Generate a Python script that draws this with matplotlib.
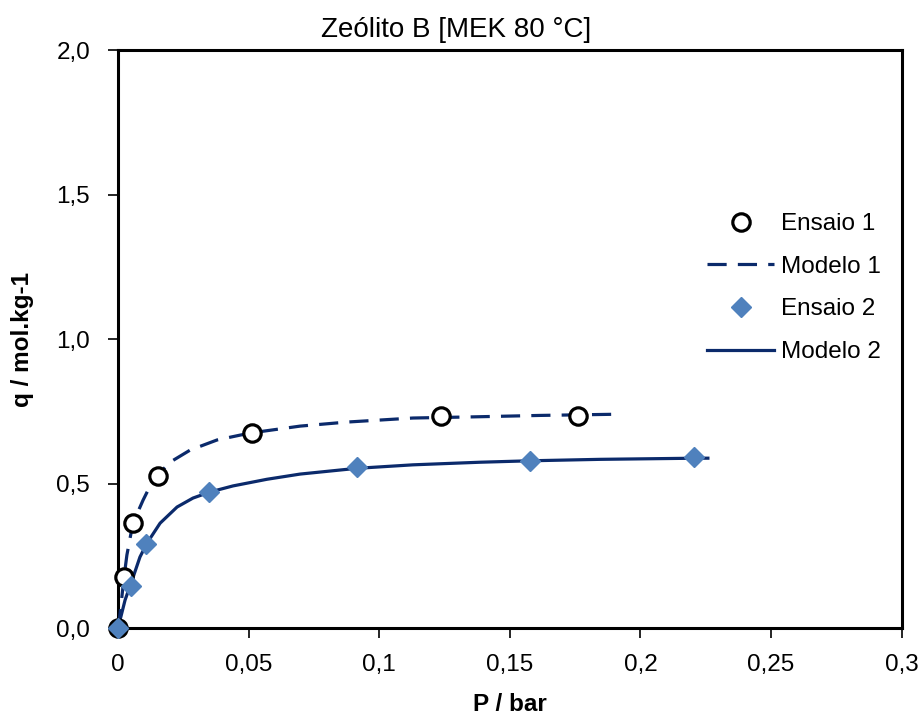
import matplotlib
matplotlib.use('Agg')
import matplotlib.pyplot as plt

plt.rcParams['font.family'] = ['Liberation Sans', 'DejaVu Sans']
plt.rcParams['font.size'] = 17.5

# Ensaio 1 / Ensaio 2 measurements (P in bar, q in mol/kg)
p_ensaio1 = [0.0, 0.0023, 0.0057, 0.0153, 0.0513, 0.1236, 0.1760]
q_ensaio1 = [0.0, 0.176, 0.363, 0.526, 0.675, 0.734, 0.734]

p_ensaio2 = [0.0, 0.0050, 0.0107, 0.0348, 0.0915, 0.1577, 0.2204]
q_ensaio2 = [0.0, 0.145, 0.291, 0.471, 0.557, 0.578, 0.592]

# fitted model curves
p_modelo1 = [0.0, 0.0008, 0.0023, 0.0034, 0.0057, 0.0096, 0.0134, 0.0199,
             0.0276, 0.0379, 0.0505, 0.0697, 0.0876, 0.1129, 0.1359, 0.1615, 0.1902]
q_modelo1 = [0.0, 0.052, 0.176, 0.253, 0.363, 0.443, 0.512, 0.574,
             0.616, 0.651, 0.675, 0.699, 0.713, 0.727, 0.731, 0.736, 0.740]

p_modelo2 = [0.0, 0.0027, 0.0054, 0.0084, 0.0111, 0.0161, 0.0226, 0.0287,
             0.0352, 0.0440, 0.0570, 0.0697, 0.0915, 0.1129, 0.1385, 0.1577,
             0.1845, 0.2216, 0.2258]
q_modelo2 = [0.0, 0.097, 0.166, 0.246, 0.294, 0.363, 0.419, 0.450,
             0.471, 0.492, 0.515, 0.533, 0.553, 0.565, 0.574, 0.579,
             0.584, 0.588, 0.588]

x_ticks = [0, 0.05, 0.1, 0.15, 0.2, 0.25, 0.3]
x_labels = ['0', '0,05', '0,1', '0,15', '0,2', '0,25', '0,3']
y_ticks = [0.0, 0.5, 1.0, 1.5, 2.0]
y_labels = ['0,0', '0,5', '1,0', '1,5', '2,0']

navy = '#0b2a6b'
blue = '#4f81bd'

fig = plt.figure(figsize=(9.22, 7.17), dpi=100)
ax = fig.add_axes([0.128, 0.124, 0.85, 0.806])

ax.plot(p_ensaio1, q_ensaio1, 'o', ms=12.5, mfc='white', mec='black', mew=2.3,
        label='Ensaio 1', zorder=4, clip_on=False)
ax.plot(p_modelo1, q_modelo1, color=navy, lw=2.3, dashes=(6, 3.5),
        label='Modelo 1', zorder=3)
ax.plot(p_ensaio2, q_ensaio2, 'D', ms=10.5, mfc=blue, mec=blue,
        label='Ensaio 2', zorder=5, clip_on=False)
ax.plot(p_modelo2, q_modelo2, color=navy, lw=2.3, label='Modelo 2', zorder=3)

ax.set_xlim(0, 0.3)
ax.set_ylim(0, 2.0)
ax.set_xticks(x_ticks)
ax.set_xticklabels(x_labels)
ax.set_yticks(y_ticks)
ax.set_yticklabels(y_labels)
ax.tick_params(direction='out', length=7, width=1.2, labelsize=17.5)
ax.tick_params(axis='x', pad=12)
ax.tick_params(axis='y', pad=13)

for s in ax.spines.values():
    s.set_linewidth(2.2)
    s.set_color('black')

ax.set_xlabel('P / bar', fontweight='bold', fontsize=17.5, labelpad=12)
ax.set_ylabel('q / mol.kg-1', fontweight='bold', fontsize=17.5, labelpad=16)
fig.text(0.495, 0.958, 'Zeólito B [MEK 80 °C]', ha='center', va='center', fontsize=20)

ax.legend(loc='upper left', bbox_to_anchor=(0.724, 0.756), frameon=False,
          fontsize=17.5, handlelength=2.75, handletextpad=0.3, labelspacing=0.85,
          borderpad=0.4)

fig.savefig('out.png', dpi=100)
